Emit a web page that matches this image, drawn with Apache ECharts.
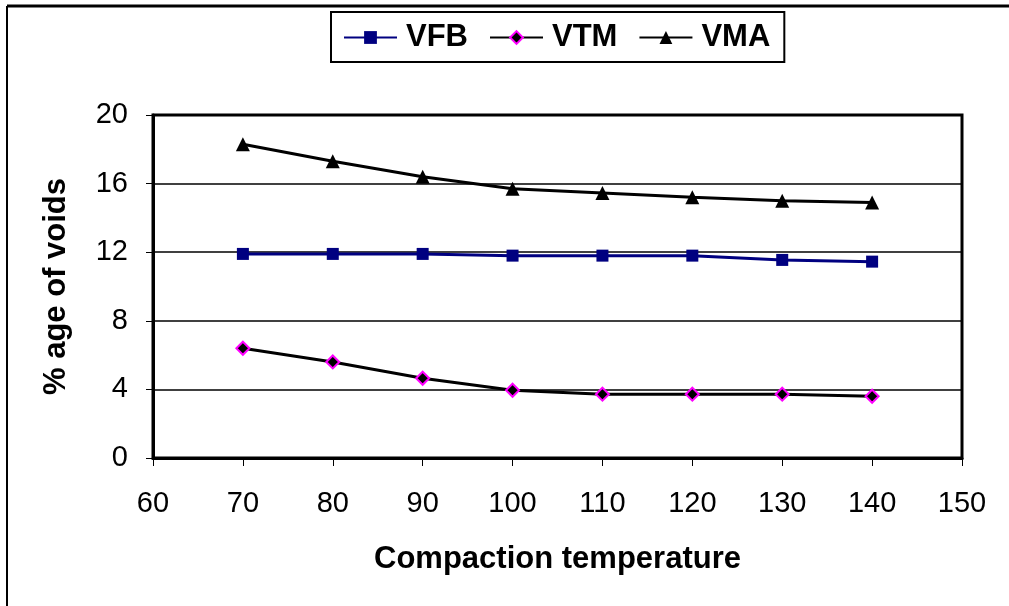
<!DOCTYPE html>
<html>
<head>
<meta charset="utf-8">
<title>Voids vs compaction temperature</title>
<script src="https://cdn.jsdelivr.net/npm/echarts@6/dist/echarts.min.js"></script>
<style>
  html, body { margin: 0; padding: 0; background: #fff; }
  #chart { width: 1009px; height: 606px; }
</style>
</head>
<body>
<div id="chart"></div>
<script>
// values
const temps = [70, 80, 90, 100, 110, 120, 130, 140]
const vfb = [11.9, 11.9, 11.9, 11.8, 11.8, 11.8, 11.55, 11.45]
const vtm = [6.4, 5.6, 4.65, 3.95, 3.72, 3.72, 3.72, 3.6]
const vma = [18.3, 17.3, 16.4, 15.7, 15.45, 15.2, 15.0, 14.9]

const font = 'Arial, "Liberation Sans", sans-serif'

function pairs (ys) {
  return temps.map((t, i) => [t, ys[i]])
}

const chart = echarts.init(document.getElementById('chart'))
chart.setOption({
  animation: false,
  backgroundColor: '#fff',
  textStyle: { fontFamily: font },
  graphic: [
    { type: 'line', shape: { x1: 7, y1: 6, x2: 7, y2: 606 }, style: { stroke: '#000', lineWidth: 2 } },
    { type: 'line', shape: { x1: 7, y1: 6, x2: 1009, y2: 6 }, style: { stroke: '#000', lineWidth: 3 } }
  ],
  legend: {
    left: 331,
    top: 12,
    padding: [10, 14, 9, 12],
    itemGap: 21,
    itemWidth: 53,
    itemHeight: 16,
    borderColor: '#000',
    borderWidth: 2,
    textStyle: { fontSize: 31, fontWeight: 'bold', color: '#000', fontFamily: font, padding: [0, 0, 0, 4] },
    data: ['VFB', 'VTM', 'VMA']
  },
  grid: {
    left: 153,
    right: 47,
    top: 115,
    bottom: 148,
    show: true,
    borderColor: '#000',
    borderWidth: 3
  },
  xAxis: {
    type: 'value',
    min: 60,
    max: 150,
    interval: 10,
    name: 'Compaction temperature',
    nameLocation: 'middle',
    nameGap: 86,
    nameTextStyle: { fontSize: 31, fontWeight: 'bold', color: '#000' },
    axisLine: { lineStyle: { color: '#000', width: 3 } },
    axisTick: { show: true, length: 8, lineStyle: { color: '#000', width: 1 } },
    axisLabel: { fontSize: 29, color: '#000', margin: 31 },
    splitLine: { show: false }
  },
  yAxis: {
    type: 'value',
    min: 0,
    max: 20,
    interval: 4,
    name: '% age of voids',
    nameLocation: 'middle',
    nameGap: 81,
    nameTextStyle: { fontSize: 31, fontWeight: 'bold', color: '#000' },
    axisLine: { show: true, lineStyle: { color: '#000', width: 3 } },
    axisTick: { show: true, length: 7, lineStyle: { color: '#000', width: 1 } },
    axisLabel: { fontSize: 29, color: '#000', margin: 25 },
    splitLine: { show: true, lineStyle: { color: '#000', width: 1.5 } }
  },
  series: [
    {
      name: 'VFB',
      type: 'line',
      data: pairs(vfb),
      symbol: 'rect',
      symbolSize: 12,
      lineStyle: { color: '#000080', width: 3 },
      itemStyle: { color: '#000080' }
    },
    {
      name: 'VTM',
      type: 'line',
      data: pairs(vtm),
      symbol: 'diamond',
      symbolSize: 13,
      lineStyle: { color: '#000', width: 3 },
      itemStyle: { color: '#000', borderColor: '#ff00ff', borderWidth: 2 }
    },
    {
      name: 'VMA',
      type: 'line',
      data: pairs(vma),
      symbol: 'triangle',
      symbolSize: 14,
      lineStyle: { color: '#000', width: 3 },
      itemStyle: { color: '#000' }
    }
  ]
})
</script>
</body>
</html>
